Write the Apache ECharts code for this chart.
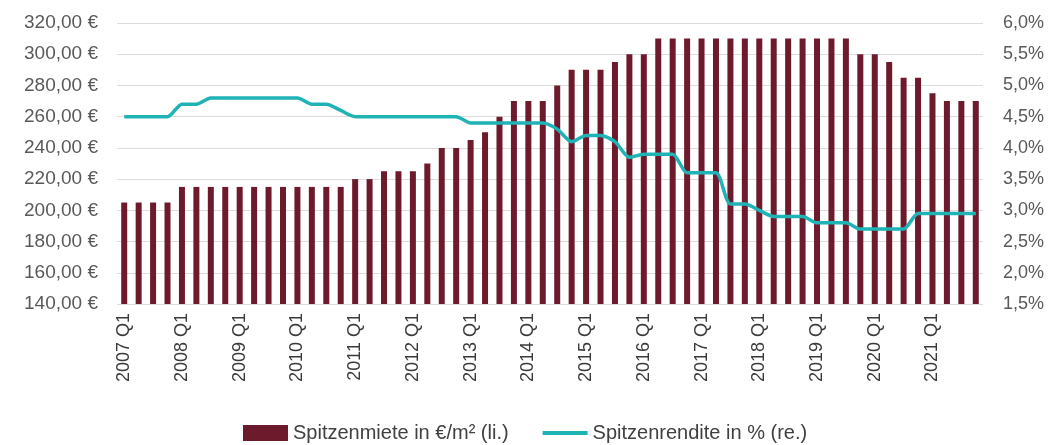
<!DOCTYPE html>
<html>
<head>
<meta charset="utf-8">
<script src="https://cdn.jsdelivr.net/npm/echarts@6/dist/echarts.min.js"></script>
<style>
	html, body { margin: 0; padding: 0; background: #fff; }
	#chart { width: 1048px; height: 445px; }
</style>
</head>
<body>
<div id="chart"></div>
<script>
var years = [2007, 2008, 2009, 2010, 2011, 2012, 2013, 2014, 2015, 2016, 2017, 2018, 2019, 2020, 2021];
var quarters = ['Q1', 'Q2', 'Q3', 'Q4'];

// Spitzenmiete in €/m² (li.)
var rentData = [
	205, 205, 205, 205,
	215, 215, 215, 215,
	215, 215, 215, 215,
	215, 215, 215, 215,
	220, 220, 225, 225,
	225, 230, 240, 240,
	245, 250, 260, 270,
	270, 270, 280, 290,
	290, 290, 295, 300,
	300, 310, 310, 310,
	310, 310, 310, 310,
	310, 310, 310, 310,
	310, 310, 310, 300,
	300, 295, 285, 285,
	275, 270, 270, 270
];

// Spitzenrendite in % (re.)
var yieldData = [
	4.5, 4.5, 4.5, 4.5,
	4.7, 4.7, 4.8, 4.8,
	4.8, 4.8, 4.8, 4.8,
	4.8, 4.7, 4.7, 4.6,
	4.5, 4.5, 4.5, 4.5,
	4.5, 4.5, 4.5, 4.5,
	4.4, 4.4, 4.4, 4.4,
	4.4, 4.4, 4.3, 4.1,
	4.2, 4.2, 4.1, 3.85,
	3.9, 3.9, 3.9, 3.6,
	3.6, 3.6, 3.1, 3.1,
	3.0, 2.9, 2.9, 2.9,
	2.8, 2.8, 2.8, 2.7,
	2.7, 2.7, 2.7, 2.95,
	2.95, 2.95, 2.95, 2.95
];

var categories = [];
for (var i = 0; i < years.length; i++) {
	for (var q = 0; q < quarters.length; q++) {
		categories.push(years[i] + ' ' + quarters[q]);
	}
}

var fontFam = '"Liberation Sans", Arial, sans-serif';
// thin bar in the middle of a 45x16 box (tiny corner points keep the box size)
var lineIcon = 'path://M0,0 L0.01,0 L0,0.01 Z M0,6 L45,6 L45,10 L0,10 Z M45,16 L44.99,16 L45,15.99 Z';

var chart = echarts.init(document.getElementById('chart'));

var option = {
	animation: false,
	textStyle: { fontFamily: fontFam },
	grid: {
		left: 117,
		right: 65,
		top: 23,
		bottom: 141,
		containLabel: false
	},
	legend: {
		bottom: 2,
		left: 243,
		padding: 0,
		itemWidth: 45,
		itemHeight: 16,
		itemGap: 34,
		textStyle: {
			color: '#404040',
			fontSize: 20,
			fontFamily: fontFam
		},
		data: [
			{ name: 'Spitzenmiete in €/m² (li.)', icon: 'rect' },
			{ name: 'Spitzenrendite in % (re.)', icon: lineIcon }
		]
	},
	xAxis: {
		type: 'category',
		data: categories,
		axisLine: { show: false },
		axisTick: { show: false },
		axisLabel: {
			interval: 3,
			rotate: 90,
			margin: 9,
			color: '#3a3a3a',
			fontSize: 18,
			fontFamily: fontFam
		}
	},
	yAxis: [
		{
			type: 'value',
			min: 140,
			max: 320,
			interval: 20,
			axisLine: { show: false },
			axisTick: { show: false },
			splitLine: { lineStyle: { color: '#dcdcdc', width: 1 } },
			axisLabel: {
				margin: 19,
				color: '#595959',
				fontSize: 19,
				fontFamily: fontFam,
				formatter: function (v) {
					return v.toFixed(2).replace('.', ',') + ' €';
				}
			}
		},
		{
			type: 'value',
			min: 1.5,
			max: 6.0,
			interval: 0.5,
			axisLine: { show: false },
			axisTick: { show: false },
			splitLine: { show: false },
			axisLabel: {
				margin: 20,
				color: '#595959',
				fontSize: 18,
				fontFamily: fontFam,
				formatter: function (v) {
					return v.toFixed(1).replace('.', ',') + '%';
				}
			}
		}
	],
	series: [
		{
			name: 'Spitzenmiete in €/m² (li.)',
			type: 'bar',
			yAxisIndex: 0,
			barWidth: 6,
			itemStyle: { color: '#6e1a2d' },
			data: rentData
		},
		{
			name: 'Spitzenrendite in % (re.)',
			type: 'line',
			yAxisIndex: 1,
			symbol: 'none',
			smooth: 0.25,
			lineStyle: { color: '#1fb3b6', width: 3.5 },
			itemStyle: { color: '#1fb3b6' },
			data: yieldData
		}
	]
};
chart.setOption(option);
</script>
</body>
</html>
